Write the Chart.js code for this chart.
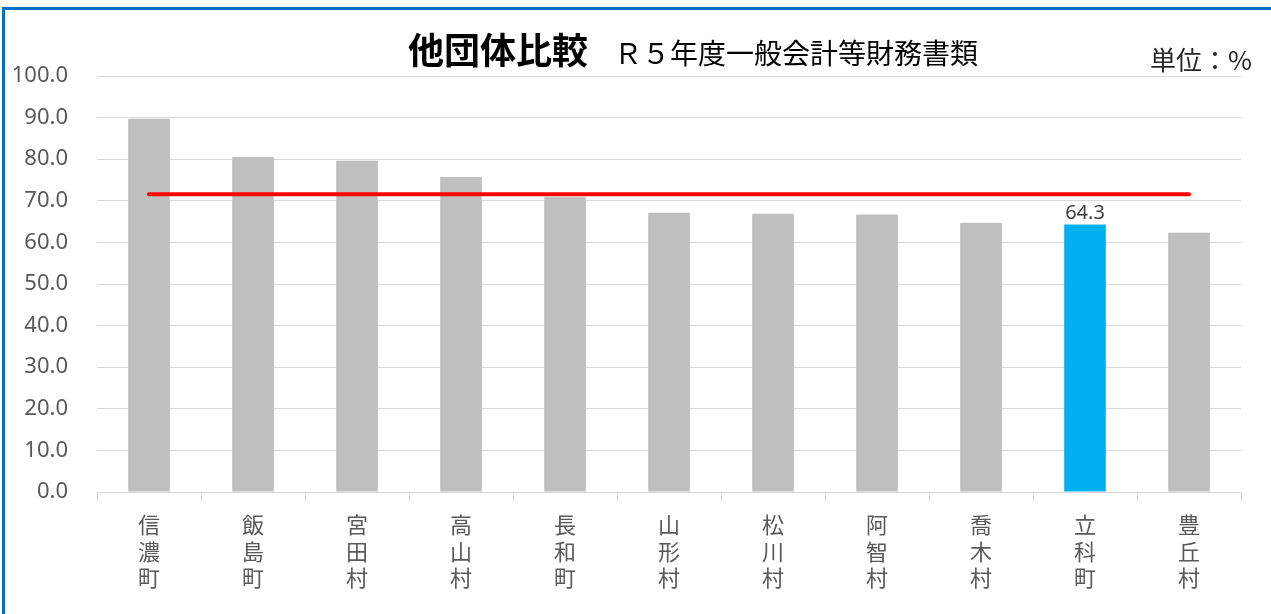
<!DOCTYPE html>
<html>
<head>
<meta charset="utf-8">
<script src="https://cdn.jsdelivr.net/npm/chart.js@4"></script>
<style>
    body { margin: 0; background: #fff; }
    #wrap { position: relative; width: 1271px; height: 614px; overflow: hidden; font-family: "Noto Sans CJK JP", sans-serif; }
    #frame { position: absolute; left: 2px; top: 7px; width: 1400px; height: 700px; border: 3px solid #0070c0; box-sizing: border-box; }
    #title { position: absolute; left: 408px; top: 22px; white-space: nowrap; color: #000; }
    #title .main { font-size: 36px; font-weight: bold; }
    #title .sub { font-size: 28px; margin-left: 26px; }
    #unit { position: absolute; left: 1150px; top: 40px; font-size: 26px; color: #262626; }
    canvas { position: absolute; left: 0; top: 0; }
</style>
</head>
<body>
<div id="wrap">
    <div id="frame"></div>
    <canvas id="grafikas" width="1271" height="614"></canvas>
    <div id="title"><span class="main">他団体比較</span><span class="sub">Ｒ５年度一般会計等財務書類</span></div>
    <div id="unit">単位：%</div>
</div>
<script>
// duomenys
var towns = ["信濃町", "飯島町", "宮田村", "高山村", "長和町", "山形村", "松川村", "阿智村", "喬木村", "立科町", "豊丘村"];
var ratios = [89.7, 80.5, 79.6, 75.7, 70.9, 67.1, 66.9, 66.7, 64.7, 64.3, 62.3];
var averageLine = [71.6, 71.6, 71.6, 71.6, 71.6, 71.6, 71.6, 71.6, 71.6, 71.6, 71.6];
var highlightTown = "立科町";

var barColors = towns.map(function(t) {
    return t == highlightTown ? "#00b0f0" : "#bfbfbf";
});

// vertikalus uzrasai - po viena simboli eiluteje
var verticalLabels = towns.map(function(t) {
    return t.split("");
});

const valueLabel = {
    id: 'valueLabel',
    afterDatasetsDraw(chart) {
        const ctx = chart.ctx;
        const meta = chart.getDatasetMeta(1);
        const i = towns.indexOf(highlightTown);
        const bar = meta.data[i];
        ctx.save();
        ctx.font = '20px "Noto Sans"';
        ctx.fillStyle = '#404040';
        ctx.textAlign = 'center';
        ctx.textBaseline = 'bottom';
        ctx.fillText(ratios[i].toFixed(1), bar.x, bar.y - 1);
        ctx.restore();
    }
};

var ctx = document.getElementById('grafikas').getContext('2d');

var chart = new Chart(ctx, {
    data: {
        labels: verticalLabels,
        datasets: [
            {
                type: 'line',
                label: '平均',
                data: averageLine,
                borderColor: '#ff0000',
                borderWidth: 4,
                borderCapStyle: 'round',
                pointRadius: 0,
                fill: false,
                order: 0
            },
            {
                type: 'bar',
                label: '比率',
                data: ratios,
                backgroundColor: barColors,
                categoryPercentage: 1,
                barPercentage: 0.4,
                order: 1
            }
        ]
    },
    options: {
        responsive: false,
        animation: false,
        layout: { padding: { top: 76, right: 30, left: 0, bottom: 0 } },
        plugins: {
            legend: { display: false },
            tooltip: { enabled: false }
        },
        scales: {
            x: {
                afterFit: function(scale) { scale.height = 122; },
                grid: {
                    offset: true,
                    drawOnChartArea: false,
                    color: '#d9d9d9',
                    tickLength: 9
                },
                border: { color: '#d9d9d9' },
                ticks: {
                    color: '#595959',
                    font: { family: '"Noto Sans CJK JP"', size: 22, lineHeight: 1.22 },
                    padding: 10,
                    maxRotation: 0,
                    autoSkip: false
                }
            },
            y: {
                min: 0,
                max: 100,
                afterFit: function(scale) { scale.width = 97; },
                border: { display: false },
                grid: { color: '#d9d9d9', drawTicks: false },
                ticks: {
                    stepSize: 10,
                    color: '#595959',
                    padding: 29,
                    font: { family: '"Noto Sans"', size: 22 },
                    callback: function(v) { return v.toFixed(1); }
                }
            }
        }
    },
    plugins: [valueLabel]
});
</script>
</body>
</html>
